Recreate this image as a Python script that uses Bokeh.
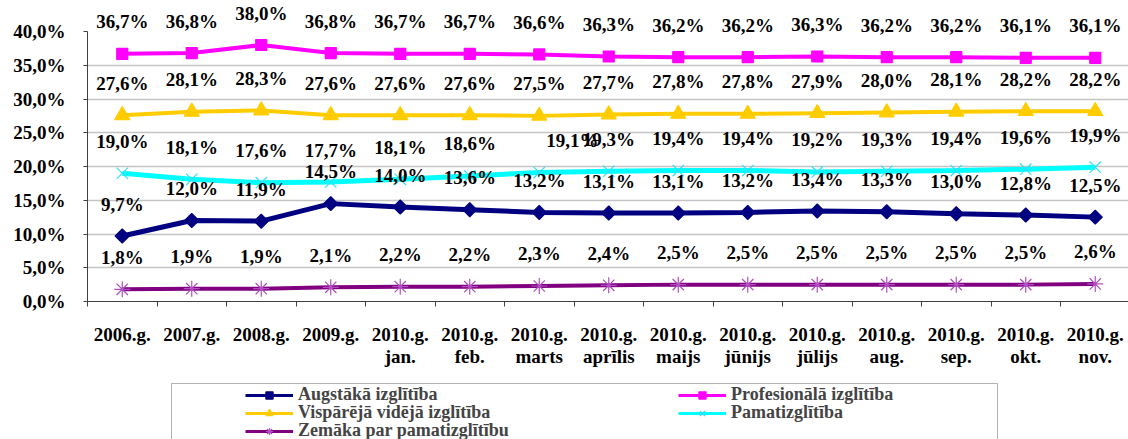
import math
from bokeh.plotting import figure
from bokeh.layouts import column
from bokeh.models import (ColumnDataSource, Range1d, FixedTicker, CustomJSTickFormatter,
                          LabelSet, Legend, LegendItem, BoxAnnotation)
from bokeh.embed import file_html
from bokeh.resources import INLINE

categories = ["2006.g.", "2007.g.", "2008.g.", "2009.g.",
              "2010.g.\njan.", "2010.g.\nfeb.", "2010.g.\nmarts", "2010.g.\naprīlis",
              "2010.g.\nmaijs", "2010.g.\njūnijs", "2010.g.\njūlijs", "2010.g.\naug.",
              "2010.g.\nsep.", "2010.g.\nokt.", "2010.g.\nnov."]

augstaka = [9.7, 12.0, 11.9, 14.5, 14.0, 13.6, 13.2, 13.1, 13.1, 13.2, 13.4, 13.3, 13.0, 12.8, 12.5]
profesionala = [36.7, 36.8, 38.0, 36.8, 36.7, 36.7, 36.6, 36.3, 36.2, 36.2, 36.3, 36.2, 36.2, 36.1, 36.1]
videja = [27.6, 28.1, 28.3, 27.6, 27.6, 27.6, 27.5, 27.7, 27.8, 27.8, 27.9, 28.0, 28.1, 28.2, 28.2]
pamat = [19.0, 18.1, 17.6, 17.7, 18.1, 18.6, 19.1, 19.3, 19.4, 19.4, 19.2, 19.3, 19.4, 19.6, 19.9]
zemaka = [1.8, 1.9, 1.9, 2.1, 2.2, 2.2, 2.3, 2.4, 2.5, 2.5, 2.5, 2.5, 2.5, 2.5, 2.6]

series_names = ["Augstākā izglītība", "Profesionālā izglītība", "Vispārējā vidējā izglītība",
                "Pamatizglītība", "Zemāka par pamatizglītību"]

y_ticks = [0, 5, 10, 15, 20, 25, 30, 35, 40]

FONT = "Liberation Serif"
FS = "19px"
W = 1128
H1, H2 = 375, 64
FRAME_L, AXIS_TOP, FRAME_B = 87, 31, 301
STEP = 69.5
Y_MAX = 40
Y_TOP = Y_MAX * FRAME_B / (FRAME_B - AXIS_TOP)

xs = list(range(len(categories)))

p = figure(width=W, height=H1, output_backend="svg", toolbar_location=None,
           x_range=Range1d(-0.5, -0.5 + (W - FRAME_L) / STEP), y_range=Range1d(0, Y_TOP),
           min_border_left=FRAME_L, min_border_right=0, min_border_top=0,
           min_border_bottom=H1 - FRAME_B)
p.outline_line_color = None
p.background_fill_color = "white"
p.border_fill_color = "white"

# axes
p.xaxis.ticker = FixedTicker(ticks=xs, minor_ticks=[i - 0.5 for i in range(len(categories) + 1)])
p.xaxis.major_label_overrides = {i: lab for i, lab in zip(xs, categories)}
p.xaxis.major_tick_out = 0
p.xaxis.major_tick_in = 0
p.xaxis.minor_tick_out = 5
p.xaxis.minor_tick_in = 0
p.xaxis.minor_tick_line_color = "#404040"
p.xaxis.axis_line_color = "#404040"
p.xaxis.major_label_standoff = 17
p.xaxis.major_label_text_font = FONT
p.xaxis.major_label_text_font_style = "bold"
p.xaxis.major_label_text_font_size = FS
p.xaxis.major_label_text_line_height = 1.05
p.xaxis.major_label_text_color = "black"

p.yaxis.ticker = FixedTicker(ticks=y_ticks)
p.yaxis.bounds = (0, Y_MAX)
p.yaxis.formatter = CustomJSTickFormatter(code="return tick.toFixed(1).replace('.', ',') + '%';")
p.yaxis.major_tick_out = 4
p.yaxis.major_tick_in = 0
p.yaxis.minor_tick_out = 0
p.yaxis.minor_tick_in = 0
p.yaxis.axis_line_color = "#404040"
p.yaxis.major_tick_line_color = "#404040"
p.yaxis.major_label_standoff = 18
p.yaxis.major_label_text_font = FONT
p.yaxis.major_label_text_font_style = "bold"
p.yaxis.major_label_text_font_size = FS
p.yaxis.major_label_text_color = "black"

p.xgrid.visible = False
p.ygrid.ticker = FixedTicker(ticks=y_ticks[1:-1])
p.ygrid.grid_line_color = "#c4c4c4"
p.ygrid.grid_line_width = 1.5

styles = [
    dict(color="#000080", lw=5, marker="square", angle=math.pi / 4, size=10, fill="#000080", mline="#000080"),
    dict(color="#FF00FF", lw=4, marker="square", angle=0, size=11, fill="#FF00FF", mline="#FF00FF"),
    dict(color="#FFCC00", lw=4, marker="triangle", angle=0, size=15, fill="#FFCC00", mline="#FFCC00"),
    dict(color="#00FFFF", lw=5, marker="x", angle=0, size=16, fill=None, mline="#30E0F8"),
    dict(color="#800080", lw=4, marker="asterisk", angle=0, size=16, fill=None, mline="#B050C0"),
]
values = [augstaka, profesionala, videja, pamat, zemaka]
# horizontal nudge (px) of data labels, only the overlapping one
label_dx = [[0] * 15, [0] * 15, [0] * 15, [0] * 6 + [33] + [0] * 8, [0] * 15]

for vals, st in zip(values, styles):
    src = ColumnDataSource(dict(x=xs, y=vals))
    p.line("x", "y", source=src, line_color=st["color"], line_width=st["lw"])
    p.scatter("x", "y", source=src, marker=st["marker"], angle=st["angle"], size=st["size"],
              fill_color=st["fill"], line_color=st["mline"], line_width=1.2)

for vals, dx in zip(values, label_dx):
    src = ColumnDataSource(dict(x=xs, y=vals,
                                txt=[f"{v:.1f}".replace(".", ",") + "%" for v in vals],
                                dx=dx))
    p.add_layout(LabelSet(x="x", y="y", text="txt", source=src, x_offset="dx", y_offset=32,
                          text_align="center", text_baseline="middle",
                          text_font=FONT, text_font_style="bold", text_font_size=FS,
                          text_color="black"))

# legend strip below the chart (its frame is aligned with the chart's frame)
p2 = figure(width=W, height=H2, output_backend="svg", toolbar_location=None,
            x_range=Range1d(FRAME_L, W), y_range=Range1d(0, H2),
            x_axis_location=None, y_axis_location=None,
            min_border_left=FRAME_L, min_border_right=0, min_border_top=0, min_border_bottom=0)
p2.outline_line_color = None
p2.xgrid.visible = False
p2.ygrid.visible = False

nan = float("nan")
items = []
for name, st in zip(series_names, styles):
    rl = p2.line(x=[nan], y=[nan], line_color=st["color"], line_width=3)
    rm = p2.scatter(x=[nan], y=[nan], marker=st["marker"], angle=st["angle"], size=st["size"] - 3,
                    fill_color=st["fill"], line_color=st["mline"], line_width=1.2)
    items.append(LegendItem(label=name, renderers=[rl, rm]))

p2.add_layout(BoxAnnotation(left=171, right=997, top=H2 - 8, bottom=-10,
                            fill_alpha=0, line_color="black", line_width=1))

# one legend row per line of the reference legend (two columns, 18 px apart)
ROW_H = 18
LEG_FS = 18
for r, row_items in enumerate([items[0:2], items[2:4], items[4:5]]):
    center = H2 - 19 - r * ROW_H
    legend = Legend(items=row_items, orientation="horizontal",
                    location=(245 - FRAME_L, center - 11),
                    label_text_font=FONT, label_text_font_style="bold",
                    label_text_font_size=f"{LEG_FS}px",
                    glyph_width=48, glyph_height=18, label_width=380, label_height=18,
                    label_standoff=5, spacing=0, padding=0, margin=0,
                    border_line_alpha=0, background_fill_alpha=0)
    p2.add_layout(legend, "center")

layout = column(p, p2, spacing=0)
open("out.html", "w").write(file_html(layout, INLINE))
